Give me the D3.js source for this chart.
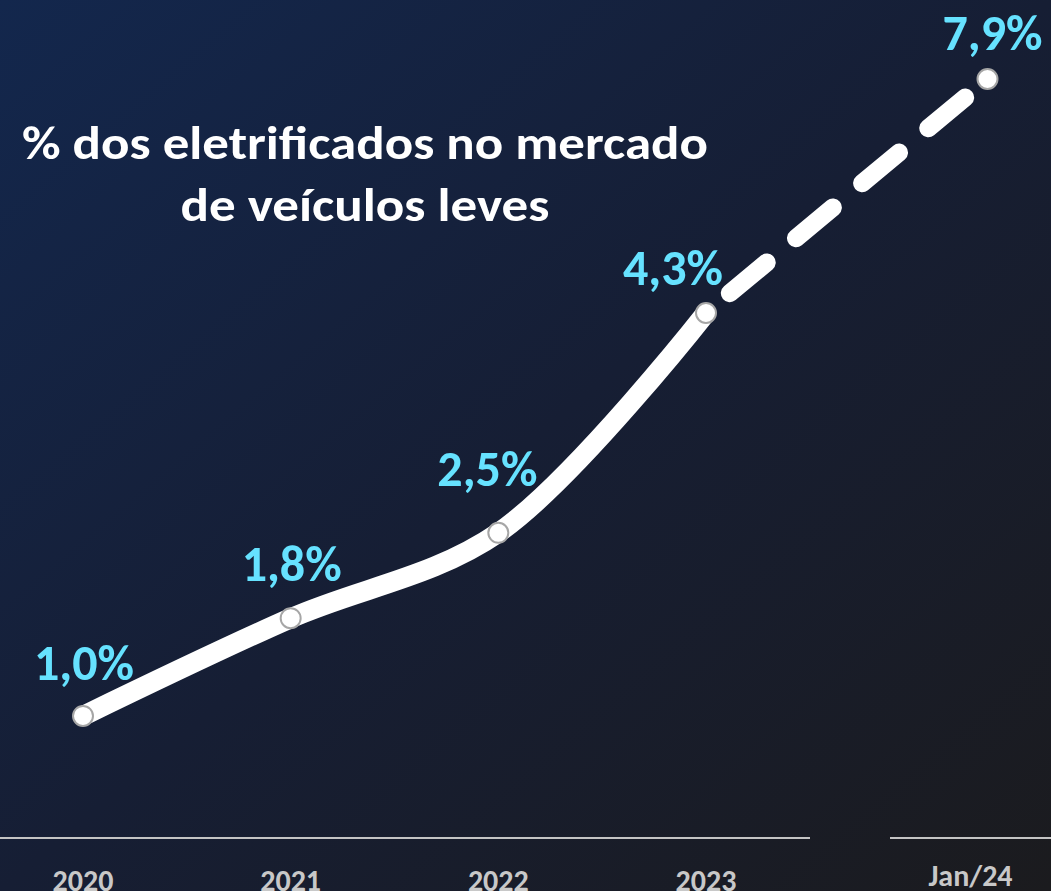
<!DOCTYPE html>
<html>
<head>
<meta charset="utf-8">
<script src="https://cdn.jsdelivr.net/npm/d3@7"></script>
<style>
  html, body { margin: 0; padding: 0; background: #161d33; }
  svg { display: block; }
</style>
</head>
<body>
<div id="chart"></div>
<script>
// data
const years = ["2020", "2021", "2022", "2023"];
const yearValues = [1.0, 1.8, 2.5, 4.3];
const lastLabel = "Jan/24";
const lastValue = 7.9;
const valueLabels = ["1,0%", "1,8%", "2,5%", "4,3%", "7,9%"];
const titleLines = ["% dos eletrificados no mercado", "de veículos leves"];

const width = 1051;
const height = 891;
const baseY = 838;

const svg = d3.select("#chart")
  .append("svg")
  .attr("width", width)
  .attr("height", height);

// background gradient
const defs = svg.append("defs");
const grad = defs.append("linearGradient")
  .attr("id", "bg")
  .attr("x1", 0).attr("y1", 0)
  .attr("x2", 1).attr("y2", 1);
grad.append("stop").attr("offset", "0%").attr("stop-color", "#13274d");
grad.append("stop").attr("offset", "50%").attr("stop-color", "#161e34");
grad.append("stop").attr("offset", "100%").attr("stop-color", "#1b1b1e");

svg.append("rect")
  .attr("width", width)
  .attr("height", height)
  .attr("fill", "url(#bg)");

// scales: main panel 2020-2023, broken panel for Jan/24
const x = d3.scalePoint().domain(years).range([83, 706]);
const x2 = d3.scalePoint().domain([lastLabel]).range([890, 1051]).padding(0.5);
// y axis is broken after 4.3 (compressed upper section)
const y = d3.scaleLinear().domain([0, 4.3, lastValue]).range([baseY, 313, 79]);

const lastX = x2(lastLabel) + 17;

// axis lines (with break)
svg.append("line")
  .attr("x1", 0).attr("x2", 810)
  .attr("y1", baseY).attr("y2", baseY)
  .attr("stroke", "#c4c4c4").attr("stroke-width", 2);
svg.append("line")
  .attr("x1", 890).attr("x2", width)
  .attr("y1", baseY).attr("y2", baseY)
  .attr("stroke", "#c4c4c4").attr("stroke-width", 2);

// tick labels
const font = "Carlito, Lato, 'Open Sans', sans-serif";
svg.selectAll(".tick-year")
  .data(years)
  .enter()
  .append("text")
  .attr("class", "tick-year")
  .attr("x", d => x(d))
  .attr("y", 891)
  .attr("text-anchor", "middle")
  .attr("font-family", font)
  .attr("font-weight", "bold")
  .attr("font-size", 30)
  .attr("fill", "#c8c8c8")
  .text(d => d);
svg.append("text")
  .attr("x", x2(lastLabel))
  .attr("y", 886)
  .attr("text-anchor", "middle")
  .attr("font-family", font)
  .attr("font-weight", "bold")
  .attr("font-size", 30)
  .attr("fill", "#c8c8c8")
  .text(lastLabel);

// title
svg.append("text")
  .attr("x", 365)
  .attr("y", 159)
  .attr("text-anchor", "middle")
  .attr("font-family", font)
  .attr("font-weight", "bold")
  .attr("font-size", 47)
  .attr("fill", "#ffffff")
  .attr("textLength", 686)
  .attr("lengthAdjust", "spacingAndGlyphs")
  .text(titleLines[0]);
svg.append("text")
  .attr("x", 365)
  .attr("y", 221)
  .attr("text-anchor", "middle")
  .attr("font-family", font)
  .attr("font-weight", "bold")
  .attr("font-size", 47)
  .attr("fill", "#ffffff")
  .attr("textLength", 369)
  .attr("lengthAdjust", "spacingAndGlyphs")
  .text(titleLines[1]);

// points
const points = years.map((d, i) => [x(d), y(yearValues[i])]);
const lastPoint = [lastX, y(lastValue)];

// solid line
const line = d3.line().curve(d3.curveCatmullRom.alpha(0.5));
svg.append("path")
  .attr("d", line(points))
  .attr("fill", "none")
  .attr("stroke", "#ffffff")
  .attr("stroke-width", 20)
  .attr("stroke-linecap", "round");

// dashed segment to Jan/24
svg.append("path")
  .attr("d", d3.line()([points[3], lastPoint]))
  .attr("fill", "none")
  .attr("stroke", "#ffffff")
  .attr("stroke-width", 18)
  .attr("stroke-linecap", "round")
  .attr("stroke-dasharray", "48,38")
  .attr("stroke-dashoffset", 55);

// markers
const allPoints = points.concat([lastPoint]);
svg.selectAll(".marker")
  .data(allPoints)
  .enter()
  .append("circle")
  .attr("class", "marker")
  .attr("cx", d => d[0])
  .attr("cy", d => d[1])
  .attr("r", 10)
  .attr("fill", "#ffffff")
  .attr("stroke", "#a6a6a6")
  .attr("stroke-width", 2);

// value labels
const labelShift = [[1, -36], [1, -37], [-11, -47], [-33, -28], [5, -29]];
svg.selectAll(".value-label")
  .data(allPoints)
  .enter()
  .append("text")
  .attr("class", "value-label")
  .attr("x", (d, i) => d[0] + labelShift[i][0])
  .attr("y", (d, i) => d[1] + labelShift[i][1])
  .attr("text-anchor", "middle")
  .attr("font-family", font)
  .attr("font-weight", "bold")
  .attr("font-size", 50)
  .attr("fill", "#66e2ff")
  .text((d, i) => valueLabels[i]);
</script>
</body>
</html>
